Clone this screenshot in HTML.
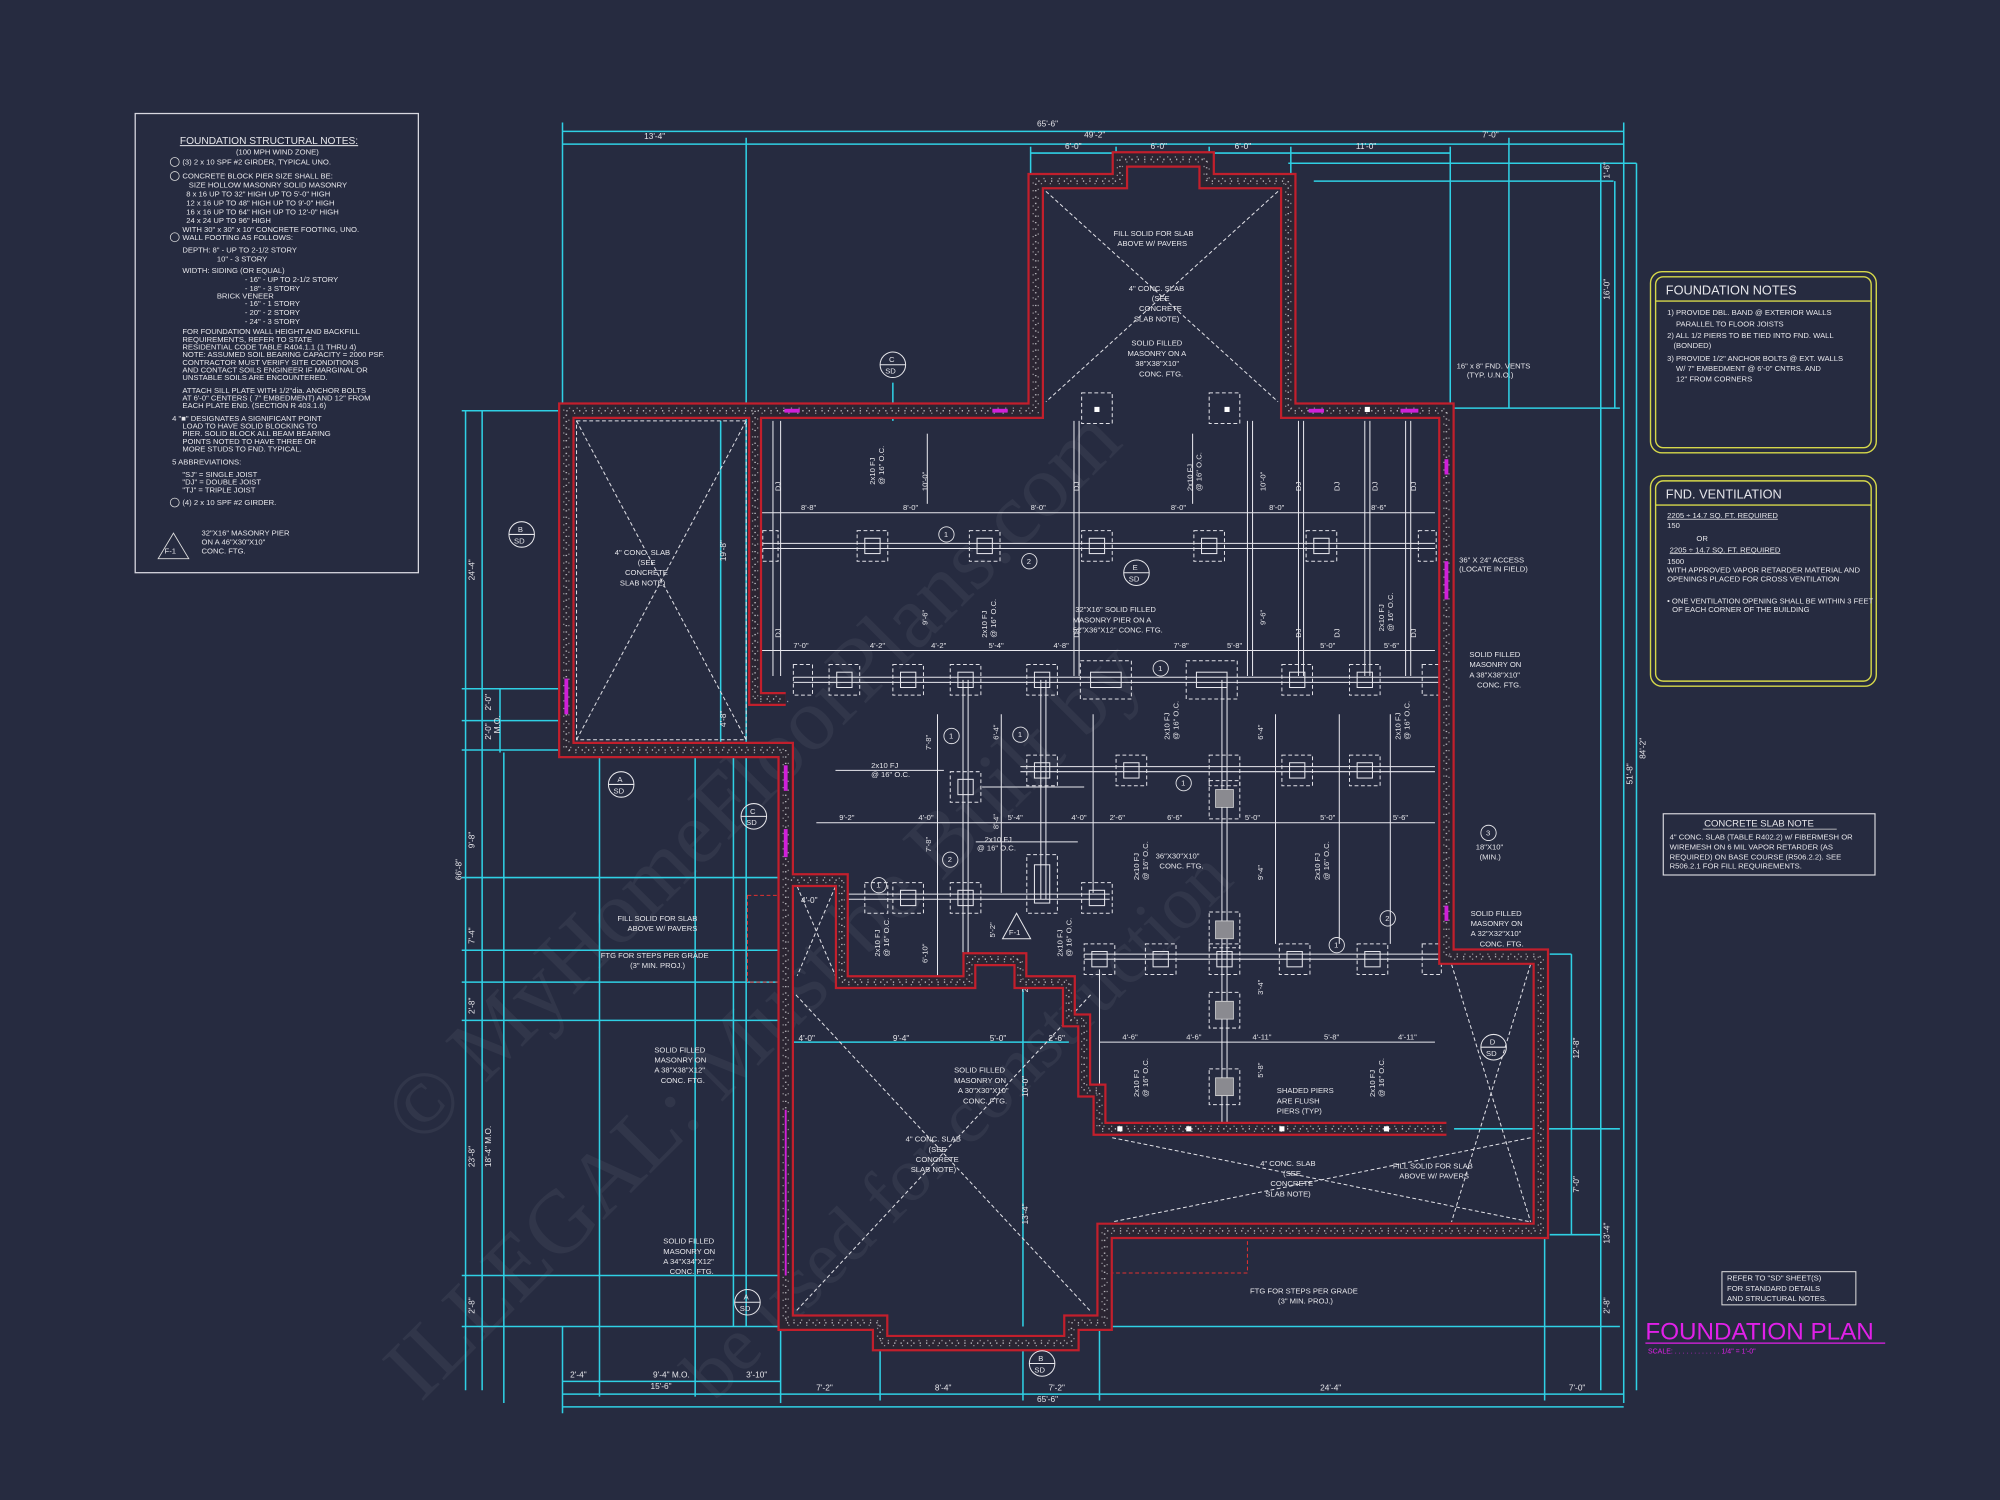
<!DOCTYPE html>
<html><head><meta charset="utf-8"><style>
html,body{margin:0;padding:0;background:#262b40;width:2000px;height:1500px;overflow:hidden}
svg{display:block}
text{font-family:"Liberation Sans",sans-serif;fill:#e6e6ea}
.c{stroke:#2fd0e4;fill:none;stroke-width:1.2}
.ct{fill:#38d6ea;font-size:6.5px}
.w{stroke:#e8e8ee;fill:none;stroke-width:.8}
.wd{stroke:#e0e0e6;fill:none;stroke-width:.8;stroke-dasharray:3 2}
.t{font-size:6px}
.wm{fill:#ffffff;opacity:.05;font-family:"Liberation Serif",serif}
</style></head><body>
<svg width="2000" height="1500" viewBox="0 0 1568 1176" preserveAspectRatio="none" xmlns="http://www.w3.org/2000/svg">
<defs>
<path id="ow" d="M444,322 H812 V142 H878 V125 H946 V142 H1010 V322 H1134 V750 H1208 V965 H866 V1037 H840 V1053 H690 V1037 H616 V588 H444 Z"/>
<path id="iw" d="M592,322 V548 H616 M620,690 H660 V770 H760 V752 H800 V770 H838 V800 H850 V855 H862 V885 H1134"/>
</defs>
<rect width="1568" height="1176" fill="#262b40"/>

<!-- watermark -->
<text class="wm" font-size="70" transform="translate(330,900) rotate(-45)">© MyHomeFloorPlans.com</text>
<text class="wm" font-size="70" transform="translate(330,1100) rotate(-45)">ILLEGAL: Must be Built by</text>
<text class="wm" font-size="60" transform="translate(560,1100) rotate(-45)">be used for construction</text>

<!-- notes box -->
<rect x="106" y="89" width="222" height="360" fill="none" stroke="#d8d8e0" stroke-width="1"/>
<g class="t" font-size="5.6">
<text x="141" y="113" font-size="8" text-decoration="underline">FOUNDATION STRUCTURAL NOTES:</text>
<text x="185" y="121">(100 MPH WIND ZONE)</text>
<circle cx="137" cy="127" r="3.5" fill="none" stroke="#ddd" stroke-width=".6"/><text x="143" y="129">(3) 2 x 10 SPF #2 GIRDER, TYPICAL UNO.</text>
<circle cx="137" cy="138" r="3.5" fill="none" stroke="#ddd" stroke-width=".6"/><text x="143" y="140">CONCRETE BLOCK PIER SIZE SHALL BE:</text>
<text x="148" y="147">SIZE      HOLLOW MASONRY    SOLID MASONRY</text>
<text x="146" y="154">8 x 16       UP TO 32" HIGH       UP TO 5'-0" HIGH</text>
<text x="146" y="161">12 x 16     UP TO 48" HIGH       UP TO 9'-0" HIGH</text>
<text x="146" y="168">16 x 16     UP TO 64" HIGH       UP TO 12'-0" HIGH</text>
<text x="146" y="175">24 x 24     UP TO 96" HIGH</text>
<text x="143" y="182">WITH 30" x 30" x 10" CONCRETE FOOTING, UNO.</text>
<circle cx="137" cy="186" r="3.5" fill="none" stroke="#ddd" stroke-width=".6"/><text x="143" y="188">WALL FOOTING AS FOLLOWS:</text>
<text x="143" y="198">DEPTH:  8" - UP TO 2-1/2 STORY</text>
<text x="170" y="205">10" - 3 STORY</text>
<text x="143" y="214">WIDTH:  SIDING (OR EQUAL)</text>
<text x="192" y="221">- 16" - UP TO 2-1/2 STORY</text>
<text x="192" y="228">- 18" - 3 STORY</text>
<text x="170" y="234">BRICK VENEER</text>
<text x="192" y="240">- 16" - 1 STORY</text>
<text x="192" y="247">- 20" - 2 STORY</text>
<text x="192" y="254">- 24" - 3 STORY</text>
<text x="143" y="262">FOR FOUNDATION WALL HEIGHT AND BACKFILL</text>
<text x="143" y="268">REQUIREMENTS, REFER TO STATE</text>
<text x="143" y="274">RESIDENTIAL CODE TABLE R404.1.1 (1 THRU 4)</text>
<text x="143" y="280">NOTE: ASSUMED SOIL BEARING CAPACITY = 2000 PSF.</text>
<text x="143" y="286">CONTRACTOR MUST VERIFY SITE CONDITIONS</text>
<text x="143" y="292">AND CONTACT SOILS ENGINEER IF MARGINAL OR</text>
<text x="143" y="298">UNSTABLE SOILS ARE ENCOUNTERED.</text>
<text x="143" y="308">ATTACH SILL PLATE WITH 1/2"dia. ANCHOR BOLTS</text>
<text x="143" y="314">AT 6'-0" CENTERS ( 7" EMBEDMENT) AND 12" FROM</text>
<text x="143" y="320">EACH PLATE END. (SECTION R 403.1.6)</text>
<text x="135" y="330">4  "■" DESIGNATES A SIGNIFICANT POINT</text>
<text x="143" y="336">LOAD TO HAVE SOLID BLOCKING TO</text>
<text x="143" y="342">PIER. SOLID BLOCK ALL BEAM BEARING</text>
<text x="143" y="348">POINTS NOTED TO HAVE THREE OR</text>
<text x="143" y="354">MORE STUDS TO FND. TYPICAL.</text>
<text x="135" y="364">5  ABBREVIATIONS:</text>
<text x="143" y="374">"SJ" = SINGLE JOIST</text>
<text x="143" y="380">"DJ" = DOUBLE JOIST</text>
<text x="143" y="386">"TJ" = TRIPLE JOIST</text>
<circle cx="137" cy="394" r="3.5" fill="none" stroke="#ddd" stroke-width=".6"/><text x="143" y="396">(4) 2 x 10 SPF #2 GIRDER.</text>
<polygon points="136,418 124,438 148,438" fill="none" stroke="#ddd" stroke-width=".7"/><text x="129" y="434">F-1</text>
<text x="158" y="420">32"X16" MASONRY PIER</text>
<text x="158" y="427">ON A 46"X30"X10"</text>
<text x="158" y="434">CONC. FTG.</text>
</g>

<!-- right note boxes -->
<g fill="none" stroke="#d6d84a" stroke-width="1.1">
<rect x="1294" y="213" width="177" height="142" rx="9"/><rect x="1298" y="217" width="169" height="134" rx="6"/>
<line x1="1298" y1="236" x2="1467" y2="236"/>
<rect x="1294" y="373" width="177" height="165" rx="9"/><rect x="1298" y="377" width="169" height="157" rx="6"/>
<line x1="1298" y1="396" x2="1467" y2="396"/>
</g>
<g class="t" font-size="5.6">
<text x="1306" y="231" font-size="10">FOUNDATION NOTES</text>
<text x="1307" y="247">1) PROVIDE DBL. BAND @ EXTERIOR WALLS</text>
<text x="1314" y="256">PARALLEL TO FLOOR JOISTS</text>
<text x="1307" y="265">2) ALL 1/2 PIERS TO BE TIED INTO FND. WALL</text>
<text x="1312" y="273">(BONDED)</text>
<text x="1307" y="283">3) PROVIDE 1/2" ANCHOR BOLTS @ EXT. WALLS</text>
<text x="1314" y="291">W/ 7" EMBEDMENT @ 6'-0" CNTRS. AND</text>
<text x="1314" y="299">12" FROM CORNERS</text>
<text x="1306" y="391" font-size="10">FND. VENTILATION</text>
<text x="1307" y="406" text-decoration="underline">2205 ÷ 14.7 SQ. FT. REQUIRED</text>
<text x="1307" y="414">150</text>
<text x="1330" y="424">OR</text>
<text x="1309" y="433" text-decoration="underline">2205 ÷ 14.7 SQ. FT. REQUIRED</text>
<text x="1307" y="442">1500</text>
<text x="1307" y="449">WITH APPROVED VAPOR RETARDER MATERIAL AND</text>
<text x="1307" y="456">OPENINGS PLACED FOR CROSS VENTILATION</text>
<text x="1307" y="473">• ONE VENTILATION OPENING SHALL BE WITHIN 3 FEET</text>
<text x="1311" y="480">OF EACH CORNER OF THE BUILDING</text>
</g>
<rect x="1304" y="638" width="166" height="48" fill="none" stroke="#dcdce2" stroke-width=".9"/>
<line x1="1335" y1="650" x2="1440" y2="650" stroke="#ddd" stroke-width=".6"/>
<g class="t" font-size="5.6">
<text x="1336" y="648" font-size="7.5">CONCRETE SLAB NOTE</text>
<text x="1309" y="658">4" CONC. SLAB (TABLE R402.2) w/ FIBERMESH OR</text>
<text x="1309" y="666">WIREMESH ON 6 MIL VAPOR RETARDER (AS</text>
<text x="1309" y="674">REQUIRED) ON BASE COURSE (R506.2.2). SEE</text>
<text x="1309" y="681">R506.2.1 FOR FILL REQUIREMENTS.</text>
</g>
<rect x="1350" y="997" width="105" height="26" fill="none" stroke="#ddd" stroke-width=".8"/>
<g class="t" font-size="5.6"><text x="1354" y="1004">REFER TO "SD" SHEET(S)</text><text x="1354" y="1012">FOR STANDARD DETAILS</text><text x="1354" y="1020">AND STRUCTURAL NOTES.</text></g>
<text x="1290" y="1050" font-size="19" style="fill:#e020e8">FOUNDATION PLAN</text>
<line x1="1290" y1="1053" x2="1478" y2="1053" stroke="#e020e8" stroke-width="1"/>
<text x="1292" y="1061" font-size="5.5" style="fill:#e020e8">SCALE: . . . . . . . . . . . . 1/4" = 1'-0"</text>

<!-- cyan dimension / grid lines -->
<g class="c">
<line x1="441" y1="103" x2="1273" y2="103"/>
<line x1="441" y1="113" x2="1183" y2="113"/><line x1="1183" y1="113" x2="1273" y2="113"/>
<line x1="808" y1="120" x2="1137" y2="120"/>
<line x1="441" y1="96" x2="441" y2="320"/><line x1="585" y1="108" x2="585" y2="1040"/>
<line x1="1273" y1="96" x2="1273" y2="1100"/><line x1="1183" y1="108" x2="1183" y2="320"/>
<line x1="1137" y1="115" x2="1137" y2="320"/>
<line x1="808" y1="115" x2="808" y2="140"/><line x1="875" y1="115" x2="875" y2="125"/><line x1="948" y1="115" x2="948" y2="125"/><line x1="1012" y1="115" x2="1012" y2="140"/>
<line x1="1010" y1="128" x2="1283" y2="128"/><line x1="1030" y1="142" x2="1265" y2="142"/>
<line x1="1255" y1="128" x2="1255" y2="1090"/><line x1="1266" y1="142" x2="1266" y2="320"/><line x1="1283" y1="128" x2="1283" y2="1090"/>
<line x1="1140" y1="320" x2="1270" y2="320"/>
<line x1="1215" y1="748" x2="1232" y2="748"/><line x1="1232" y1="748" x2="1232" y2="968"/><line x1="1215" y1="968" x2="1255" y2="968"/>
<line x1="1140" y1="885" x2="1270" y2="885"/>
<line x1="870" y1="1040" x2="1270" y2="1040"/>
<line x1="362" y1="322" x2="441" y2="322"/><line x1="365" y1="322" x2="365" y2="1090"/><line x1="378" y1="322" x2="378" y2="1090"/>
<line x1="392" y1="540" x2="392" y2="590"/>
<line x1="362" y1="540" x2="441" y2="540"/><line x1="362" y1="565" x2="441" y2="565"/><line x1="362" y1="588" x2="612" y2="588"/>
<line x1="362" y1="770" x2="612" y2="770"/><line x1="362" y1="800" x2="612" y2="800"/>
<line x1="362" y1="1000" x2="612" y2="1000"/><line x1="362" y1="1040" x2="612" y2="1040"/>
<line x1="362" y1="688" x2="612" y2="688"/><line x1="362" y1="745" x2="612" y2="745"/>
<line x1="395" y1="590" x2="395" y2="1100"/><line x1="470" y1="590" x2="470" y2="1095"/><line x1="545" y1="590" x2="545" y2="1095"/>
<line x1="565" y1="330" x2="565" y2="585"/>
<line x1="441" y1="1083" x2="612" y2="1083"/><line x1="441" y1="1093" x2="1273" y2="1093"/><line x1="441" y1="1103" x2="1273" y2="1103"/>
<line x1="441" y1="1040" x2="441" y2="1108"/><line x1="612" y1="1040" x2="612" y2="1100"/>
<line x1="690" y1="1050" x2="690" y2="1098"/><line x1="802" y1="1050" x2="802" y2="1098"/><line x1="862" y1="1040" x2="862" y2="1098"/>
<line x1="1211" y1="970" x2="1211" y2="1098"/>
<line x1="615" y1="817" x2="838" y2="817"/>
<line x1="802" y1="750" x2="802" y2="1040"/>
<line x1="575" y1="590" x2="575" y2="1040"/>
<line x1="700" y1="300" x2="700" y2="330"/>
</g>
<g class="ct">
<text x="813" y="99">65'-6"</text><text x="505" y="109">13'-4"</text><text x="850" y="108">49'-2"</text><text x="1162" y="108">7'-0"</text>
<text x="835" y="117">6'-0"</text><text x="902" y="117">6'-0"</text><text x="968" y="117">6'-0"</text><text x="1063" y="117">11'-0"</text>
<text x="813" y="1099">65'-6"</text><text x="510" y="1089">15'-6"</text><text x="447" y="1080">2'-4"</text><text x="512" y="1080">9'-4" M.O.</text><text x="585" y="1080">3'-10"</text>
<text x="640" y="1090">7'-2"</text><text x="733" y="1090">8'-4"</text><text x="822" y="1090">7'-2"</text><text x="1035" y="1090">24'-4"</text><text x="1230" y="1090">7'-0"</text>
<text x="626" y="816">4'-0"</text><text x="700" y="816">9'-4"</text><text x="776" y="816">5'-0"</text><text x="822" y="816">2'-6"</text>
<text x="628" y="708">4'-0"</text><text x="594" y="549">2'-2"</text>
</g>
<g class="ct" font-size="6">
<text transform="translate(372,455) rotate(-90)">24'-4"</text><text transform="translate(372,665) rotate(-90)">9'-8"</text>
<text transform="translate(372,740) rotate(-90)">7'-4"</text><text transform="translate(372,795) rotate(-90)">2'-8"</text>
<text transform="translate(372,915) rotate(-90)">23'-8"</text><text transform="translate(385,915) rotate(-90)">18'-4" M.O.</text>
<text transform="translate(372,1030) rotate(-90)">2'-8"</text><text transform="translate(362,690) rotate(-90)">66'-8"</text>
<text transform="translate(385,557) rotate(-90)">2'-0"</text><text transform="translate(385,580) rotate(-90)">2'-0"</text><text transform="translate(392,575) rotate(-90)">M.O.</text>
<text transform="translate(569,440) rotate(-90)">19'-8"</text><text transform="translate(569,570) rotate(-90)">4'-8"</text>
<text transform="translate(1262,235) rotate(-90)">16'-0"</text><text transform="translate(1280,615) rotate(-90)">51'-8"</text><text transform="translate(1290,595) rotate(-90)">84'-2"</text>
<text transform="translate(1262,140) rotate(-90)">1'-6"</text><text transform="translate(1238,830) rotate(-90)">12'-8"</text>
<text transform="translate(1238,935) rotate(-90)">7'-0"</text><text transform="translate(1262,975) rotate(-90)">13'-4"</text>
<text transform="translate(1262,1030) rotate(-90)">2'-8"</text><text transform="translate(806,960) rotate(-90)">13'-4"</text>
<text transform="translate(806,860) rotate(-90)">10'-0"</text><text transform="translate(806,778) rotate(-90)">2'-4"</text>
</g>

<!-- slab X diagonals -->
<g class="wd">
<line x1="452" y1="330" x2="585" y2="580"/><line x1="585" y1="330" x2="452" y2="580"/>
<rect x="452" y="330" width="133" height="250"/>
<line x1="820" y1="150" x2="1002" y2="315"/><line x1="1002" y1="150" x2="820" y2="315"/>
<line x1="624" y1="780" x2="855" y2="1028"/><line x1="855" y1="780" x2="624" y2="1028"/>
<line x1="872" y1="892" x2="1200" y2="958"/><line x1="1200" y1="892" x2="872" y2="958"/>
<line x1="1138" y1="756" x2="1200" y2="958"/><line x1="1200" y1="756" x2="1138" y2="958"/>
<line x1="625" y1="695" x2="655" y2="765"/><line x1="655" y1="695" x2="625" y2="765"/>
<rect x="586" y="702" width="36" height="68" stroke="#e03030" stroke-dasharray="3 2"/>
<polyline points="870,968 870,998 978,998 978,968" stroke="#e03030"/>
</g>

<!-- joists / framing (white) -->
<g class="w">
<line x1="606" y1="330" x2="606" y2="530"/><line x1="612" y1="330" x2="612" y2="530"/>
<line x1="842" y1="330" x2="842" y2="530"/><line x1="846" y1="330" x2="846" y2="530"/>
<line x1="978" y1="330" x2="978" y2="530"/><line x1="982" y1="330" x2="982" y2="530"/>
<line x1="1018" y1="330" x2="1018" y2="530"/><line x1="1022" y1="330" x2="1022" y2="530"/>
<line x1="1070" y1="330" x2="1070" y2="530"/><line x1="1074" y1="330" x2="1074" y2="530"/>
<line x1="1102" y1="330" x2="1102" y2="530"/><line x1="1106" y1="330" x2="1106" y2="530"/>
<line x1="935" y1="340" x2="935" y2="395"/><line x1="727" y1="340" x2="727" y2="395"/>
<line x1="595" y1="402" x2="1125" y2="402"/><line x1="595" y1="510" x2="1125" y2="510"/>
<line x1="640" y1="645" x2="1125" y2="645"/>
<line x1="862" y1="817" x2="1125" y2="817"/>
<line x1="598" y1="426" x2="1125" y2="426"/><line x1="598" y1="430" x2="1125" y2="430"/>
<line x1="622" y1="531" x2="1130" y2="531"/><line x1="622" y1="535" x2="1130" y2="535"/>
<line x1="800" y1="601" x2="1125" y2="601"/><line x1="800" y1="605" x2="1125" y2="605"/>
<line x1="660" y1="701" x2="870" y2="701"/><line x1="660" y1="705" x2="870" y2="705"/>
<line x1="850" y1="748" x2="1130" y2="748"/><line x1="850" y1="752" x2="1130" y2="752"/>
<line x1="755" y1="533" x2="755" y2="770"/><line x1="759" y1="533" x2="759" y2="770"/>
<line x1="816" y1="533" x2="816" y2="705"/><line x1="820" y1="533" x2="820" y2="705"/>
<line x1="958" y1="533" x2="958" y2="880"/><line x1="962" y1="533" x2="962" y2="880"/>
<line x1="857" y1="560" x2="857" y2="700"/><line x1="862" y1="760" x2="862" y2="880"/>
<line x1="735" y1="560" x2="735" y2="770"/><line x1="785" y1="560" x2="785" y2="700"/>
<line x1="1000" y1="560" x2="1000" y2="740"/><line x1="1050" y1="560" x2="1050" y2="740"/><line x1="1090" y1="560" x2="1090" y2="740"/>
<line x1="655" y1="604" x2="740" y2="604"/><line x1="770" y1="617" x2="850" y2="617"/>
<line x1="765" y1="660" x2="845" y2="660"/>
</g>
<!-- piers -->
<g class="wd">
<rect x="672" y="416" width="24" height="24"/><rect x="760" y="416" width="24" height="24"/><rect x="848" y="416" width="24" height="24"/><rect x="936" y="416" width="24" height="24"/><rect x="1024" y="416" width="24" height="24"/><rect x="1112" y="416" width="14" height="24"/><rect x="598" y="416" width="12" height="24"/>
<rect x="650" y="521" width="24" height="24"/><rect x="700" y="521" width="24" height="24"/><rect x="745" y="521" width="24" height="24"/><rect x="805" y="521" width="24" height="24"/>
<rect x="847" y="518" width="40" height="30"/><rect x="930" y="518" width="40" height="30"/><rect x="1005" y="521" width="24" height="24"/><rect x="1058" y="521" width="24" height="24"/><rect x="1115" y="521" width="15" height="24"/><rect x="622" y="521" width="15" height="24"/>
<rect x="805" y="592" width="24" height="24"/><rect x="875" y="592" width="24" height="24"/><rect x="948" y="592" width="24" height="24"/><rect x="1005" y="592" width="24" height="24"/><rect x="1058" y="592" width="24" height="24"/>
<rect x="745" y="605" width="24" height="24"/>
<rect x="700" y="692" width="24" height="24"/><rect x="745" y="692" width="24" height="24"/><rect x="805" y="670" width="24" height="46"/><rect x="848" y="692" width="24" height="24"/><rect x="678" y="692" width="18" height="24"/>
<rect x="850" y="740" width="24" height="24"/><rect x="898" y="740" width="24" height="24"/><rect x="948" y="740" width="24" height="24"/><rect x="1003" y="740" width="24" height="24"/><rect x="1064" y="740" width="24" height="24"/><rect x="1115" y="740" width="15" height="24"/>
<rect x="948" y="612" width="24" height="30"/><rect x="948" y="715" width="24" height="28"/><rect x="948" y="778" width="24" height="28"/><rect x="948" y="838" width="24" height="28"/>
<rect x="848" y="308" width="24" height="24"/><rect x="948" y="308" width="24" height="24"/>
</g>
<g fill="none" stroke="#e8e8ee" stroke-width=".8">
<rect x="678" y="422" width="12" height="12"/><rect x="766" y="422" width="12" height="12"/><rect x="854" y="422" width="12" height="12"/><rect x="942" y="422" width="12" height="12"/><rect x="1030" y="422" width="12" height="12"/>
<rect x="656" y="527" width="12" height="12"/><rect x="706" y="527" width="12" height="12"/><rect x="751" y="527" width="12" height="12"/><rect x="811" y="527" width="12" height="12"/><rect x="855" y="527" width="24" height="12"/><rect x="938" y="527" width="24" height="12"/><rect x="1011" y="527" width="12" height="12"/><rect x="1064" y="527" width="12" height="12"/>
<rect x="811" y="598" width="12" height="12"/><rect x="881" y="598" width="12" height="12"/><rect x="1011" y="598" width="12" height="12"/><rect x="1064" y="598" width="12" height="12"/><rect x="751" y="611" width="12" height="12"/>
<rect x="706" y="698" width="12" height="12"/><rect x="751" y="698" width="12" height="12"/><rect x="811" y="678" width="12" height="30"/><rect x="854" y="698" width="12" height="12"/>
<rect x="856" y="746" width="12" height="12"/><rect x="904" y="746" width="12" height="12"/><rect x="954" y="746" width="12" height="12"/><rect x="1009" y="746" width="12" height="12"/><rect x="1070" y="746" width="12" height="12"/>
</g>
<g fill="#8a8a90" stroke="#ddd" stroke-width=".6">
<rect x="953" y="619" width="14" height="14"/><rect x="953" y="722" width="14" height="14"/><rect x="953" y="785" width="14" height="14"/><rect x="953" y="845" width="14" height="14"/>
</g>

<!-- foundation walls -->
<g fill="none" stroke-linejoin="miter">
<use href="#ow" stroke="#c21f2c" stroke-width="13"/>
<use href="#iw" stroke="#c21f2c" stroke-width="11"/>
<use href="#ow" stroke="#2b2532" stroke-width="9.5"/>
<use href="#iw" stroke="#2b2532" stroke-width="7.5"/>
<use href="#ow" stroke="#d8d8dc" stroke-width="1.2" stroke-dasharray="1 4" opacity=".8"/>
<use href="#iw" stroke="#d8d8dc" stroke-width="1.2" stroke-dasharray="1 4" opacity=".8"/>
<g transform="translate(2,2)"><use href="#ow" stroke="#d8d8dc" stroke-width="1" stroke-dasharray="1 6" stroke-dashoffset="3" opacity=".6"/><use href="#iw" stroke="#d8d8dc" stroke-width="1" stroke-dasharray="1 6" stroke-dashoffset="3" opacity=".6"/></g>
<g transform="translate(-2,-2)"><use href="#ow" stroke="#d8d8dc" stroke-width="1" stroke-dasharray="1 5" stroke-dashoffset="2" opacity=".6"/><use href="#iw" stroke="#d8d8dc" stroke-width="1" stroke-dasharray="1 5" stroke-dashoffset="2" opacity=".6"/></g>
</g>
<g stroke="#d020d8" stroke-width="3">
<line x1="615" y1="322" x2="627" y2="322"/><line x1="778" y1="322" x2="790" y2="322"/><line x1="1026" y1="322" x2="1038" y2="322"/><line x1="1098" y1="322" x2="1112" y2="322"/>
<line x1="1134" y1="360" x2="1134" y2="372"/><line x1="1134" y1="440" x2="1134" y2="470"/><line x1="1134" y1="710" x2="1134" y2="722"/>
<line x1="444" y1="532" x2="444" y2="560"/><line x1="616" y1="600" x2="616" y2="620"/><line x1="616" y1="650" x2="616" y2="672"/>
<line x1="616" y1="870" x2="616" y2="1000" stroke-width="1.5"/>
</g>
<g fill="#fff">
<rect x="858" y="319" width="4" height="4"/><rect x="960" y="319" width="4" height="4"/><rect x="1070" y="319" width="4" height="4"/>
<rect x="876" y="883" width="4" height="4"/><rect x="930" y="883" width="4" height="4"/><rect x="1003" y="883" width="4" height="4"/><rect x="1085" y="883" width="4" height="4"/>
</g>

<!-- section markers -->
<g fill="none" stroke="#e6e6ea" stroke-width=".8">
<circle cx="700" cy="286" r="10"/><line x1="690" y1="286" x2="710" y2="286"/>
<circle cx="409" cy="419" r="10"/><line x1="399" y1="419" x2="419" y2="419"/>
<circle cx="891" cy="449" r="10"/><line x1="881" y1="449" x2="901" y2="449"/>
<circle cx="487" cy="615" r="10"/><line x1="477" y1="615" x2="497" y2="615"/>
<circle cx="591" cy="640" r="10"/><line x1="581" y1="640" x2="601" y2="640"/>
<circle cx="1171" cy="821" r="10"/><line x1="1161" y1="821" x2="1181" y2="821"/>
<circle cx="586" cy="1021" r="10"/><line x1="576" y1="1021" x2="596" y2="1021"/>
<circle cx="817" cy="1069" r="10"/><line x1="807" y1="1069" x2="827" y2="1069"/>
<polygon points="797,716 786,736 808,736"/>
</g>
<g class="t" font-size="6">
<text x="697" y="284">C</text><text x="694" y="293">SD</text><text x="406" y="417">B</text><text x="403" y="426">SD</text>
<text x="888" y="447">E</text><text x="885" y="456">SD</text><text x="484" y="613">A</text><text x="481" y="622">SD</text>
<text x="588" y="638">C</text><text x="585" y="647">SD</text><text x="1168" y="819">D</text><text x="1165" y="828">SD</text>
<text x="583" y="1019">A</text><text x="580" y="1028">SD</text><text x="814" y="1067">B</text><text x="811" y="1076">SD</text>
<text x="791" y="733">F-1</text>
</g>
<g fill="none" stroke="#e6e6ea" stroke-width=".7">
<circle cx="742" cy="419" r="6"/><circle cx="910" cy="524" r="6"/><circle cx="746" cy="577" r="6"/><circle cx="928" cy="614" r="6"/><circle cx="689" cy="694" r="6"/><circle cx="1048" cy="741" r="6"/><circle cx="1167" cy="653" r="6"/>
<circle cx="807" cy="440" r="6"/><circle cx="745" cy="674" r="6"/><circle cx="1088" cy="720" r="6"/><circle cx="800" cy="576" r="6"/>
</g>
<g class="t" font-size="5.5">
<text x="740" y="421">1</text><text x="908" y="526">1</text><text x="744" y="579">1</text><text x="926" y="616">1</text><text x="687" y="696">1</text><text x="1046" y="743">1</text><text x="1165" y="655">3</text>
<text x="805" y="442">2</text><text x="743" y="676">2</text><text x="1086" y="722">2</text><text x="798" y="578">1</text>
</g>

<!-- white dim labels -->
<g class="t" font-size="5.8">
<text x="628" y="400">8'-8"</text><text x="708" y="400">8'-0"</text><text x="808" y="400">8'-0"</text><text x="918" y="400">8'-0"</text><text x="995" y="400">8'-0"</text><text x="1075" y="400">8'-6"</text>
<text x="622" y="508">7'-0"</text><text x="682" y="508">4'-2"</text><text x="730" y="508">4'-2"</text><text x="775" y="508">5'-4"</text><text x="826" y="508">4'-8"</text><text x="920" y="508">7'-8"</text><text x="962" y="508">5'-8"</text><text x="1035" y="508">5'-0"</text><text x="1085" y="508">5'-6"</text>
<text x="658" y="643">9'-2"</text><text x="720" y="643">4'-0"</text><text x="790" y="643">5'-4"</text><text x="840" y="643">4'-0"</text><text x="870" y="643">2'-6"</text><text x="915" y="643">6'-6"</text><text x="976" y="643">5'-0"</text><text x="1035" y="643">5'-0"</text><text x="1092" y="643">5'-6"</text>
<text x="880" y="815">4'-6"</text><text x="930" y="815">4'-6"</text><text x="982" y="815">4'-11"</text><text x="1038" y="815">5'-8"</text><text x="1096" y="815">4'-11"</text>
<text x="683" y="602">2x10 FJ</text><text x="683" y="609">@ 16" O.C.</text>
<text x="772" y="660">2x10 FJ</text><text x="766" y="667">@ 16" O.C.</text>
<text x="843" y="480">32"X16" SOLID FILLED</text><text x="841" y="488">MASONRY PIER ON A</text><text x="841" y="496">52"X36"X12" CONC. FTG.</text>
<text x="906" y="673">36"X30"X10"</text><text x="909" y="681">CONC. FTG.</text>
<text x="873" y="185">FILL SOLID FOR SLAB</text><text x="876" y="193">ABOVE W/ PAVERS</text>
<text x="885" y="228">4" CONC. SLAB</text><text x="903" y="236">(SEE</text><text x="893" y="244">CONCRETE</text><text x="889" y="252">SLAB NOTE)</text>
<text x="887" y="271">SOLID FILLED</text><text x="884" y="279">MASONRY ON A</text><text x="890" y="287">38"X38"X10"</text><text x="893" y="295">CONC. FTG.</text>
<text x="482" y="435">4" CONC. SLAB</text><text x="500" y="443">(SEE</text><text x="490" y="451">CONCRETE</text><text x="486" y="459">SLAB NOTE)</text>
<text x="1142" y="289">16" x 8" FND. VENTS</text><text x="1150" y="296">(TYP. U.N.O.)</text>
<text x="1144" y="441">36" X 24" ACCESS</text><text x="1144" y="448">(LOCATE IN FIELD)</text>
<text x="1152" y="515">SOLID FILLED</text><text x="1152" y="523">MASONRY ON</text><text x="1152" y="531">A 38"X38"X10"</text><text x="1158" y="539">CONC. FTG.</text>
<text x="1157" y="666">18"X10"</text><text x="1160" y="674">(MIN.)</text>
<text x="1153" y="718">SOLID FILLED</text><text x="1153" y="726">MASONRY ON</text><text x="1153" y="734">A 32"X32"X10"</text><text x="1160" y="742">CONC. FTG.</text>
<text x="484" y="722">FILL SOLID FOR SLAB</text><text x="492" y="730">ABOVE W/ PAVERS</text>
<text x="471" y="751">FTG FOR STEPS PER GRADE</text><text x="494" y="759">(3" MIN. PROJ.)</text>
<text x="513" y="825">SOLID FILLED</text><text x="513" y="833">MASONRY ON</text><text x="513" y="841">A 38"X38"X12"</text><text x="518" y="849">CONC. FTG.</text>
<text x="748" y="841">SOLID FILLED</text><text x="748" y="849">MASONRY ON</text><text x="751" y="857">A 30"X30"X10"</text><text x="755" y="865">CONC. FTG.</text>
<text x="710" y="895">4" CONC. SLAB</text><text x="728" y="903">(SEE</text><text x="718" y="911">CONCRETE</text><text x="714" y="919">SLAB NOTE)</text>
<text x="1001" y="857">SHADED PIERS</text><text x="1001" y="865">ARE FLUSH</text><text x="1001" y="873">PIERS (TYP)</text>
<text x="988" y="914">4" CONC. SLAB</text><text x="1006" y="922">(SEE</text><text x="996" y="930">CONCRETE</text><text x="992" y="938">SLAB NOTE)</text>
<text x="1092" y="916">FILL SOLID FOR SLAB</text><text x="1097" y="924">ABOVE W/ PAVERS</text>
<text x="520" y="975">SOLID FILLED</text><text x="520" y="983">MASONRY ON</text><text x="520" y="991">A 34"X34"X12"</text><text x="525" y="999">CONC. FTG.</text>
<text x="980" y="1014">FTG FOR STEPS PER GRADE</text><text x="1002" y="1022">(3" MIN. PROJ.)</text>
</g>
<g class="t" font-size="5.5">
<text transform="translate(612,385) rotate(-90)">DJ</text><text transform="translate(612,500) rotate(-90)">DJ</text>
<text transform="translate(686,380) rotate(-90)">2x10 FJ</text><text transform="translate(693,380) rotate(-90)">@ 16" O.C.</text>
<text transform="translate(727,385) rotate(-90)">10'-0"</text><text transform="translate(727,490) rotate(-90)">9'-6"</text>
<text transform="translate(774,500) rotate(-90)">2x10 FJ</text><text transform="translate(781,500) rotate(-90)">@ 16" O.C.</text>
<text transform="translate(846,385) rotate(-90)">DJ</text><text transform="translate(846,500) rotate(-90)">DJ</text>
<text transform="translate(935,385) rotate(-90)">2x10 FJ</text><text transform="translate(942,385) rotate(-90)">@ 16" O.C.</text>
<text transform="translate(992,385) rotate(-90)">10'-0"</text><text transform="translate(992,490) rotate(-90)">9'-6"</text>
<text transform="translate(1020,385) rotate(-90)">DJ</text><text transform="translate(1050,385) rotate(-90)">DJ</text><text transform="translate(1080,385) rotate(-90)">DJ</text><text transform="translate(1110,385) rotate(-90)">DJ</text>
<text transform="translate(1020,500) rotate(-90)">DJ</text><text transform="translate(1050,500) rotate(-90)">DJ</text><text transform="translate(1110,500) rotate(-90)">DJ</text>
<text transform="translate(1085,495) rotate(-90)">2x10 FJ</text><text transform="translate(1092,495) rotate(-90)">@ 16" O.C.</text>
<text transform="translate(730,668) rotate(-90)">7'-8"</text><text transform="translate(730,588) rotate(-90)">7'-8"</text>
<text transform="translate(783,580) rotate(-90)">6'-4"</text><text transform="translate(783,650) rotate(-90)">8'-4"</text>
<text transform="translate(917,580) rotate(-90)">2x10 FJ</text><text transform="translate(924,580) rotate(-90)">@ 16" O.C.</text>
<text transform="translate(990,580) rotate(-90)">6'-4"</text><text transform="translate(1098,580) rotate(-90)">2x10 FJ</text><text transform="translate(1105,580) rotate(-90)">@ 16" O.C.</text>
<text transform="translate(990,690) rotate(-90)">9'-4"</text><text transform="translate(1035,690) rotate(-90)">2x10 FJ</text><text transform="translate(1042,690) rotate(-90)">@ 16" O.C.</text>
<text transform="translate(690,750) rotate(-90)">2x10 FJ</text><text transform="translate(697,750) rotate(-90)">@ 16" O.C.</text>
<text transform="translate(727,755) rotate(-90)">6'-10"</text><text transform="translate(780,735) rotate(-90)">5'-2"</text>
<text transform="translate(833,750) rotate(-90)">2x10 FJ</text><text transform="translate(840,750) rotate(-90)">@ 16" O.C.</text>
<text transform="translate(893,690) rotate(-90)">2x10 FJ</text><text transform="translate(900,690) rotate(-90)">@ 16" O.C.</text>
<text transform="translate(893,860) rotate(-90)">2x10 FJ</text><text transform="translate(900,860) rotate(-90)">@ 16" O.C.</text>
<text transform="translate(1078,860) rotate(-90)">2x10 FJ</text><text transform="translate(1085,860) rotate(-90)">@ 16" O.C.</text>
<text transform="translate(990,780) rotate(-90)">3'-4"</text><text transform="translate(990,845) rotate(-90)">5'-8"</text>
</g>
</svg>
</body></html>
